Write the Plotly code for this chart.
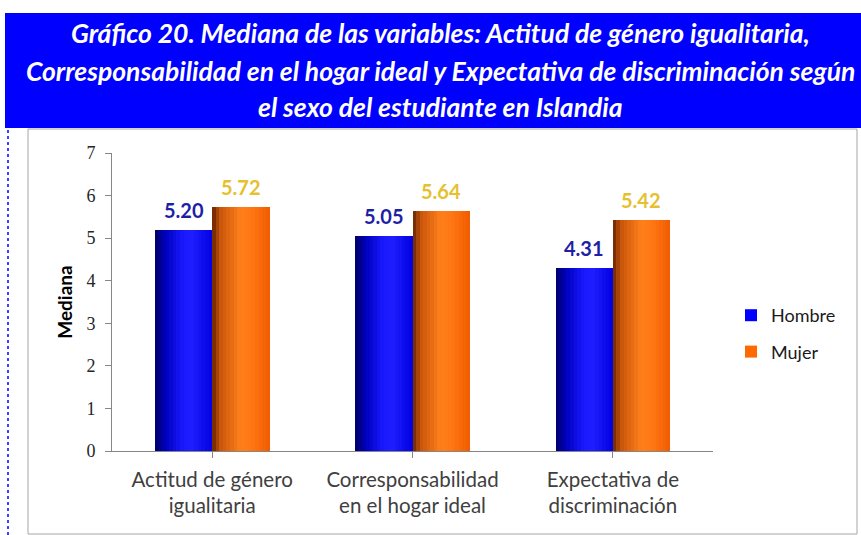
import plotly.graph_objects as go

categories = ["Actitud de género<br>igualitaria", "Corresponsabilidad<br>en el hogar ideal", "Expectativa de<br>discriminación"]
hombre = [5.20, 5.05, 4.31]
mujer = [5.72, 5.64, 5.42]
y_ticks = [0, 1, 2, 3, 4, 5, 6, 7]
title_lines = [
    "Gráfico 20. Mediana de las variables: Actitud de género igualitaria,",
    "Corresponsabilidad en el hogar ideal y Expectativa de discriminación según",
    "el sexo del estudiante en Islandia",
]

W = 0.285
N = 16
FONT = "Lato"

def interp(stops, t):
    for (p0, c0), (p1, c1) in zip(stops, stops[1:]):
        if p0 <= t <= p1:
            f = (t - p0) / (p1 - p0) if p1 > p0 else 0
            c = [round(a + (b - a) * f) for a, b in zip(c0, c1)]
            return f"rgb({c[0]},{c[1]},{c[2]})"
    c = stops[-1][1]
    return f"rgb({c[0]},{c[1]},{c[2]})"

blue_stops = [(0, (0, 0, 100)), (0.18, (0, 0, 190)), (0.5, (25, 25, 255)), (0.65, (30, 30, 255)), (1.0, (0, 0, 225))]
orange_stops = [(0, (100, 35, 0)), (0.14, (200, 85, 10)), (0.5, (255, 128, 28)), (0.7, (255, 118, 20)), (1.0, (240, 92, 0))]

xs = list(range(len(categories)))
fig = go.Figure()

series = [("Hombre", hombre, blue_stops, -W, "#0000FF"), ("Mujer", mujer, orange_stops, 0.0, "#FF6A00")]
for name, vals, stops, base_off, legcol in series:
    fig.add_trace(go.Bar(
        x=xs, y=vals, name=name, offset=base_off, width=W,
        marker=dict(color=legcol, line=dict(width=0)),
        legendgroup=name, showlegend=True, hoverinfo="skip",
    ))
    for i in range(N):
        t = (i + 0.5) / N
        fig.add_trace(go.Bar(
            x=xs, y=vals, offset=base_off + i * W / N, width=W / N * 1.08,
            marker=dict(color=interp(stops, t), line=dict(width=0)),
            legendgroup=name, showlegend=False, hoverinfo="skip",
        ))

for i, (h, m) in enumerate(zip(hombre, mujer)):
    fig.add_annotation(x=i - W / 2, y=h, xref="x", yref="y", text=f"<b>{h:.2f}</b>",
                       showarrow=False, yanchor="bottom", yshift=6,
                       font=dict(family=FONT, size=20, color="#1F1FA6"))
    fig.add_annotation(x=i + W / 2, y=m, xref="x", yref="y", text=f"<b>{m:.2f}</b>",
                       showarrow=False, yanchor="bottom", yshift=6,
                       font=dict(family=FONT, size=20, color="#E6C02E"))

# banner
fig.add_shape(type="rect", xref="paper", yref="paper", x0=5/861, x1=1, y0=1-128/535, y1=1-13/535,
              fillcolor="#0000FF", line=dict(width=0), layer="below")
for k, line in enumerate(title_lines):
    fig.add_annotation(xref="paper", yref="paper", x=440/861, y=1 - [33, 71, 107][k]/535,
                       text=f"<b><i>{line}</i></b>", showarrow=False, xanchor="center", yanchor="middle",
                       font=dict(family=FONT, size=26.5, color="white"))
# dotted left border
fig.add_shape(type="line", xref="paper", yref="paper", x0=8/861, x1=8/861, y0=0, y1=1-128/535,
              line=dict(color="#0000FF", width=1.5, dash="dot"))
# inner chart box
fig.add_shape(type="rect", xref="paper", yref="paper", x0=28/861, x1=857/861, y0=1-534/535, y1=1-129/535,
              line=dict(color="#A6A6A6", width=1), fillcolor="rgba(0,0,0,0)")

fig.update_layout(
    width=861, height=535,
    margin=dict(l=0, r=0, t=0, b=0, autoexpand=False),
    paper_bgcolor="white", plot_bgcolor="white",
    barmode="overlay", bargap=0,
    showlegend=True,
    legend=dict(x=731/861, y=1-297/535, xanchor="left", yanchor="top",
                font=dict(family=FONT, size=18, color="#1a1a1a"),
                tracegroupgap=10, traceorder="grouped", itemwidth=30,
                bgcolor="rgba(0,0,0,0)"),
    xaxis=dict(domain=[112/861, 713/861], range=[-0.5, 2.5], automargin=False,
               tickmode="array", tickvals=xs, ticktext=categories,
               showline=True, linecolor="#868686", linewidth=1,
               ticks="outside", ticklen=6, tickcolor="#868686", tickson="boundaries",
               showgrid=False, zeroline=False, ticklabelstandoff=4,
               tickfont=dict(family=FONT, size=20.5, color="#404040")),
    yaxis=dict(domain=[1-451/535, 1-153/535], range=[0, 7], automargin=False,
               tickmode="array", tickvals=y_ticks,
               showline=True, linecolor="#868686", linewidth=1,
               ticks="outside", ticklen=6, tickcolor="#868686",
               showgrid=False, zeroline=False, ticklabelstandoff=6,
               tickfont=dict(family="Liberation Serif", size=18, color="#262626"),
               title=dict(text="<b>Mediana</b>", font=dict(family=FONT, size=19, color="#000000"), standoff=8)),
)

fig.write_html("out.html", config={"displayModeBar": False},
               post_script="document.body.style.margin='0';document.body.style.overflow='hidden';")
